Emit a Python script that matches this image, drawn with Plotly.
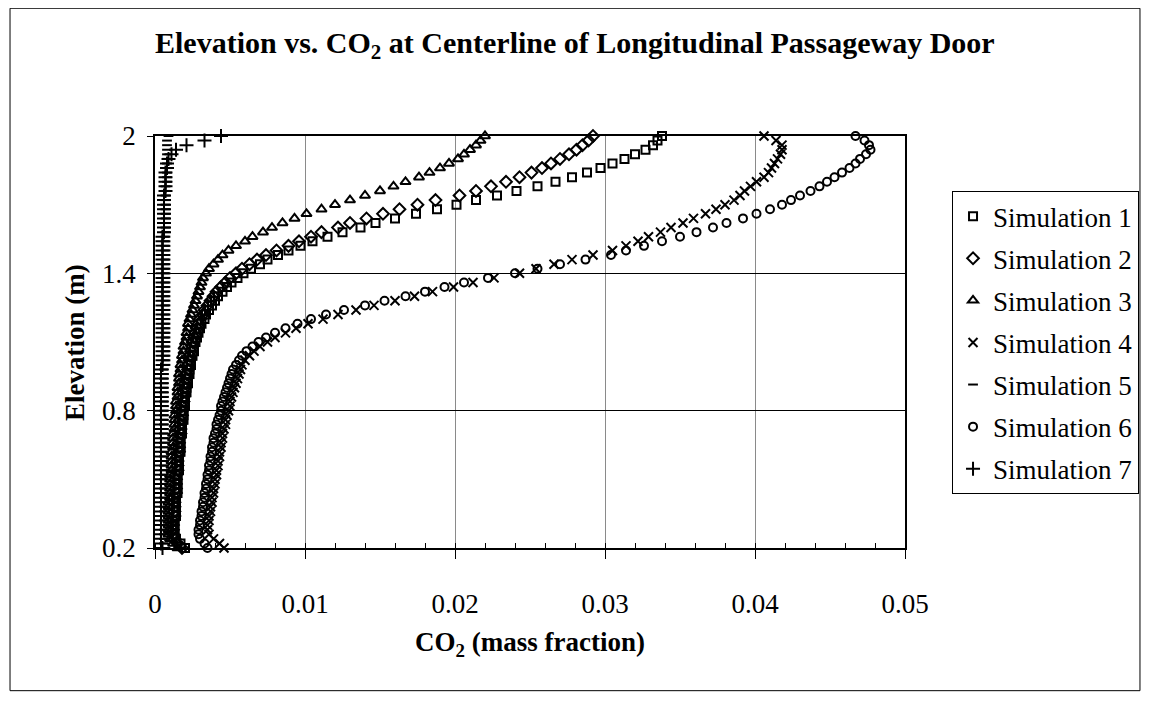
import plotly.graph_objects as go

# Elevation grid (m)
elevation = [
    0.20, 0.22, 0.24, 0.26, 0.28, 0.30, 0.32, 0.34, 0.36, 0.38,
    0.40, 0.42, 0.44, 0.46, 0.48, 0.50, 0.52, 0.54, 0.56, 0.58,
    0.60, 0.62, 0.64, 0.66, 0.68, 0.70, 0.72, 0.74, 0.76, 0.78,
    0.80, 0.82, 0.84, 0.86, 0.88, 0.90, 0.92, 0.94, 0.96, 0.98,
    1.00, 1.02, 1.04, 1.06, 1.08, 1.10, 1.12, 1.14, 1.16, 1.18,
    1.20, 1.22, 1.24, 1.26, 1.28, 1.30, 1.32, 1.34, 1.36, 1.38,
    1.40, 1.42, 1.44, 1.46, 1.48, 1.50, 1.52, 1.54, 1.56, 1.58,
    1.60, 1.62, 1.64, 1.66, 1.68, 1.70, 1.72, 1.74, 1.76, 1.78,
    1.80, 1.82, 1.84, 1.86, 1.88, 1.90, 1.92, 1.94, 1.96, 1.98,
    2.00,
]

sim1 = [
    .0020, .0017, .0014, .0013, .0013, .0013, .0013, .0014, .0014, .0014,
    .0014, .0014, .0015, .0015, .0015, .0015, .0015, .0016, .0016, .0016,
    .0016, .0017, .0017, .0017, .0017, .0018, .0018, .0018, .0019, .0019,
    .0019, .0020, .0020, .0020, .0021, .0021, .0022, .0022, .0023, .0023,
    .0024, .0024, .0025, .0026, .0026, .0027, .0028, .0029, .0030, .0031,
    .0033, .0034, .0036, .0038, .0040, .0042, .0045, .0048, .0051, .0055,
    .0059, .0064, .0070, .0075, .0082, .0089, .0097, .0105, .0115, .0125,
    .0137, .0147, .0160, .0174, .0188, .0201, .0214, .0228, .0241, .0255,
    .0267, .0278, .0288, .0297, .0305, .0313, .0320, .0327, .0332, .0335,
    .0338,
]

sim2 = [
    .0018, .0015, .0013, .0012, .0012, .0012, .0012, .0013, .0013, .0013,
    .0013, .0013, .0014, .0014, .0014, .0014, .0014, .0015, .0015, .0015,
    .0015, .0016, .0016, .0016, .0016, .0017, .0017, .0017, .0017, .0018,
    .0018, .0018, .0019, .0019, .0019, .0020, .0020, .0021, .0021, .0022,
    .0022, .0023, .0023, .0024, .0025, .0025, .0026, .0027, .0028, .0029,
    .0030, .0032, .0033, .0035, .0037, .0039, .0041, .0044, .0047, .0050,
    .0054, .0058, .0063, .0068, .0074, .0081, .0089, .0096, .0104, .0111,
    .0122, .0130, .0141, .0152, .0163, .0175, .0187, .0203, .0214, .0224,
    .0234, .0243, .0251, .0258, .0264, .0270, .0276, .0281, .0285, .0289,
    .0292,
]

sim3 = [
    .0015, .0012, .0010, .0009, .0009, .0009, .0009, .0009, .0009, .0009,
    .0009, .0010, .0010, .0010, .0010, .0010, .0010, .0011, .0011, .0011,
    .0011, .0011, .0012, .0012, .0012, .0012, .0013, .0013, .0013, .0013,
    .0014, .0014, .0014, .0015, .0015, .0015, .0016, .0016, .0016, .0017,
    .0017, .0018, .0018, .0019, .0019, .0020, .0021, .0021, .0022, .0022,
    .0023, .0024, .0025, .0026, .0027, .0028, .0029, .0030, .0031, .0032,
    .0034, .0036, .0039, .0042, .0045, .0049, .0054, .0060, .0065, .0072,
    .0078, .0085, .0093, .0101, .0111, .0120, .0130, .0140, .0150, .0159,
    .0167, .0176, .0183, .0190, .0196, .0202, .0206, .0210, .0214, .0217,
    .0220,
]

sim4 = [
    .0046, .0043, .0039, .0036, .0035, .0035, .0036, .0036, .0037, .0037,
    .0038, .0038, .0039, .0039, .0040, .0040, .0041, .0041, .0042, .0042,
    .0043, .0043, .0044, .0044, .0045, .0045, .0046, .0047, .0047, .0048,
    .0049, .0050, .0050, .0051, .0052, .0053, .0054, .0055, .0056, .0057,
    .0058, .0060, .0063, .0066, .0070, .0075, .0080, .0087, .0094, .0102,
    .0112, .0122, .0134, .0146, .0160, .0173, .0185, .0199, .0212, .0226,
    .0243, .0254, .0266, .0278, .0292, .0305, .0314, .0322, .0329, .0337,
    .0344, .0352, .0359, .0367, .0374, .0380, .0386, .0390, .0393, .0397,
    .0401, .0406, .0409, .0411, .0413, .0415, .0417, .0418, .0418, .0414,
    .0406,
]

sim5 = [
    .0007, .0006, .0006, .0006, .0006, .0006, .0006, .0006, .0006, .0006,
    .0006, .0006, .0006, .0006, .0006, .0006, .0006, .0006, .0006, .0006,
    .0006, .0006, .0006, .0006, .0006, .0006, .0006, .0006, .0006, .0006,
    .0006, .0006, .0006, .0006, .0006, .0006, .0006, .0006, .0006, .0006,
    .0007, .0007, .0007, .0007, .0007, .0007, .0007, .0007, .0007, .0007,
    .0007, .0007, .0007, .0007, .0007, .0007, .0007, .0007, .0007, .0007,
    .0007, .0007, .0007, .0007, .0007, .0007, .0007, .0007, .0007, .0007,
    .0007, .0007, .0007, .0007, .0007, .0007, .0007, .0007, .0007, .0007,
    .0008, .0008, .0008, .0008, .0008, .0008, .0008, .0008, .0008, .0008,
    .0009,
]

sim6 = [
    .0035, .0033, .0030, .0029, .0029, .0030, .0030, .0031, .0031, .0032,
    .0032, .0033, .0033, .0034, .0034, .0035, .0035, .0036, .0036, .0037,
    .0037, .0038, .0038, .0039, .0039, .0040, .0041, .0041, .0042, .0043,
    .0044, .0044, .0045, .0046, .0047, .0048, .0049, .0050, .0051, .0052,
    .0054, .0056, .0058, .0061, .0065, .0069, .0074, .0080, .0087, .0095,
    .0104, .0114, .0126, .0140, .0153, .0167, .0180, .0193, .0206, .0222,
    .0240, .0255, .0270, .0287, .0304, .0314, .0326, .0338, .0350, .0361,
    .0372, .0381, .0392, .0401, .0410, .0418, .0424, .0430, .0437, .0443,
    .0448, .0453, .0458, .0463, .0467, .0470, .0474, .0477, .0476, .0473,
    .0467,
]

sim7 = [
    .0005, .0004, .0004, .0004, .0004, .0004, .0004, .0004, .0004, .0004,
    .0004, .0004, .0004, .0004, .0004, .0004, .0004, .0004, .0004, .0004,
    .0004, .0004, .0004, .0004, .0004, .0004, .0004, .0004, .0004, .0004,
    .0004, .0004, .0004, .0004, .0004, .0004, .0004, .0004, .0004, .0004,
    .0005, .0005, .0005, .0005, .0005, .0005, .0005, .0005, .0005, .0005,
    .0005, .0005, .0005, .0005, .0005, .0005, .0005, .0005, .0005, .0005,
    .0005, .0005, .0005, .0005, .0005, .0005, .0005, .0005, .0005, .0006,
    .0006, .0006, .0006, .0006, .0006, .0006, .0006, .0006, .0007, .0007,
    .0007, .0007, .0007, .0008, .0008, .0009, .0011, .0014, .0021, .0033,
    .0044,
]

series_names = ["Simulation 1", "Simulation 2", "Simulation 3", "Simulation 4",
                "Simulation 5", "Simulation 6", "Simulation 7"]
series_values = [sim1, sim2, sim3, sim4, sim5, sim6, sim7]
symbols = ["square-open", "diamond-open", "triangle-up-open", "x-thin-open",
           "line-ew-open", "circle-open", "cross-thin-open"]
sizes = [8, 9, 9, 9, 7, 8, 10]

x_ticks = [0, 0.01, 0.02, 0.03, 0.04, 0.05]
x_ticktext = ["0", "0.01", "0.02", "0.03", "0.04", "0.05"]
y_ticks = [0.2, 0.8, 1.4, 2.0]
y_ticktext = ["0.2", "0.8", "1.4", "2"]

FONT = "Liberation Serif, Times New Roman, serif"

fig = go.Figure()
for i, (name, vals) in enumerate(zip(series_names, series_values)):
    fig.add_trace(go.Scatter(
        x=vals, y=elevation, mode="markers", name=name,
        legendgroup=f"g{i}",
        marker=dict(symbol=symbols[i], size=sizes[i], color="black",
                    line=dict(color="black", width=2)),
        cliponaxis=False,
    ))

fig.update_layout(
    width=1151, height=702,
    paper_bgcolor="white", plot_bgcolor="white",
    margin=dict(l=147, r=254, t=128, b=162),
    font=dict(family=FONT, color="black", size=27),
    showlegend=True,
    legend=dict(
        x=1.0627, y=0.8663, xanchor="left", yanchor="top",
        bordercolor="black", borderwidth=1, bgcolor="white",
        font=dict(family=FONT, size=27, color="black"),
        tracegroupgap=4, itemsizing="trace",
    ),
    annotations=[
        dict(text="<b>Elevation vs. CO<sub>2</sub> at Centerline of Longitudinal Passageway Door</b>",
             x=0.56, y=1.2211, xref="paper", yref="paper", showarrow=False,
             xanchor="center", yanchor="middle", font=dict(family=FONT, size=30)),
        dict(text="<b>CO<sub>2</sub> (mass fraction)</b>",
             x=0.5, y=-0.2321, xref="paper", yref="paper", showarrow=False,
             xanchor="center", yanchor="middle", font=dict(family=FONT, size=27)),
        dict(text="<b>Elevation (m)</b>", textangle=-90,
             x=-0.1067, y=0.5, xref="paper", yref="paper", showarrow=False,
             xanchor="center", yanchor="middle", font=dict(family=FONT, size=27)),
    ],
    shapes=[
        dict(type="rect", xref="paper", yref="paper",
             x0=-0.1933, x1=1.3133, y0=-0.3463, y1=1.31,
             line=dict(color="black", width=1), fillcolor="rgba(0,0,0,0)", layer="below"),
    ],
)

fig.update_xaxes(
    range=[0, 0.05], tickvals=x_ticks, ticktext=x_ticktext,
    showline=True, linecolor="black", linewidth=1.5, mirror=True,
    showgrid=True, gridcolor="#8a8a8a", gridwidth=1,
    zeroline=False, ticks="outside", ticklen=9, tickcolor="black",
    ticklabelstandoff=22,
    minor=dict(dtick=0.002, tick0=0, ticks="inside", ticklen=5, tickcolor="black", showgrid=False),
    tickfont=dict(family=FONT, size=27),
)
fig.update_yaxes(
    range=[0.2, 2.0], tickvals=y_ticks, ticktext=y_ticktext,
    showline=True, linecolor="black", linewidth=1.5, mirror=True,
    showgrid=True, gridcolor="black", gridwidth=1,
    zeroline=False, ticks="outside", ticklen=6, tickcolor="black",
    ticklabelstandoff=6,
    tickfont=dict(family=FONT, size=27),
)

fig.write_html("out.html")
